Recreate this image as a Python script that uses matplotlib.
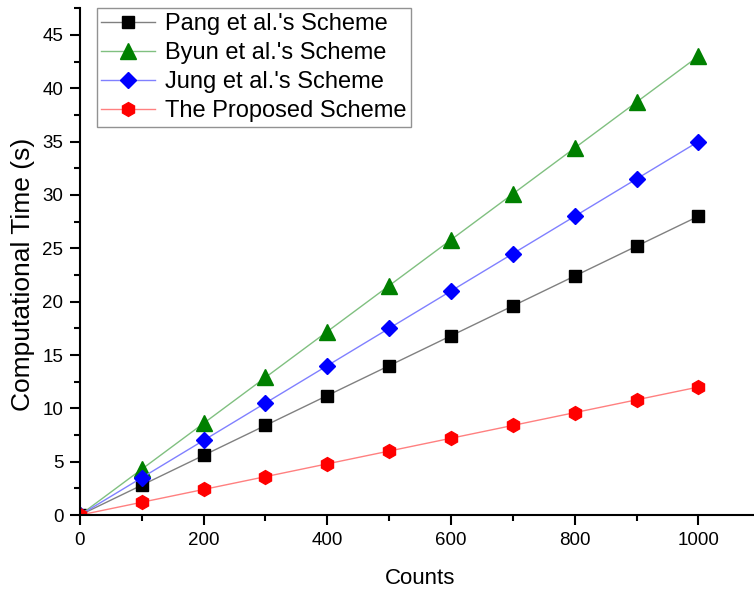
import matplotlib
matplotlib.use("Agg")
import matplotlib.pyplot as plt
from matplotlib.ticker import MultipleLocator

counts = [0, 100, 200, 300, 400, 500, 600, 700, 800, 900, 1000]
pang = [0, 2.8, 5.6, 8.4, 11.2, 14.0, 16.8, 19.6, 22.4, 25.2, 28.0]
byun = [0, 4.3, 8.6, 12.9, 17.2, 21.5, 25.8, 30.1, 34.4, 38.7, 43.0]
jung = [0, 3.5, 7.0, 10.5, 14.0, 17.5, 21.0, 24.5, 28.0, 31.5, 35.0]
proposed = [0, 1.2, 2.4, 3.6, 4.8, 6.0, 7.2, 8.4, 9.6, 10.8, 12.0]

plt.rcParams['font.family'] = ['Liberation Sans', 'DejaVu Sans']

fig = plt.figure(figsize=(7.54, 5.90), dpi=100)
ax = fig.add_axes([0.106, 0.127, 0.894, 0.859])

series = [
    ("Pang et al.'s Scheme", pang, 's', 'black', '#808080', 8),
    ("Byun et al.'s Scheme", byun, '^', '#008000', '#80c080', 11),
    ("Jung et al.'s Scheme", jung, 'D', '#0000ff', '#8080ff', 8),
    ("The Proposed Scheme", proposed, 'h', '#ff0000', '#ff8080', 10),
]
for label, vals, m, mc, lc, ms in series:
    ax.plot(counts, vals, color=lc, linewidth=1.0, marker=m, markersize=ms,
            markerfacecolor=mc, markeredgecolor=mc, label=label)

ax.set_xlim(0, 1090)
ax.set_ylim(0, 47.5)
ax.xaxis.set_major_locator(MultipleLocator(200))
ax.xaxis.set_minor_locator(MultipleLocator(100))
ax.yaxis.set_major_locator(MultipleLocator(5))
ax.yaxis.set_minor_locator(MultipleLocator(2.5))
ax.spines['top'].set_visible(False)
ax.spines['right'].set_visible(False)
for s in ('left', 'bottom'):
    ax.spines[s].set_linewidth(1.5)
ax.tick_params(which='major', direction='out', length=7, width=1.5,
               labelsize=13.5, pad=5)
ax.tick_params(which='minor', direction='out', length=4.5, width=1.5)

ax.set_xlabel('Counts', fontsize=16)
ax.set_ylabel('Computational Time (s)', fontsize=19)
ax.xaxis.set_label_coords(0.504, -0.104)
ax.yaxis.set_label_coords(-0.066, 0.475)

leg = ax.legend(loc='upper left', bbox_to_anchor=(0.025, 1.0), fontsize=17,
                frameon=True, fancybox=False, edgecolor='#777777',
                handlelength=2.25, borderpad=0.2, labelspacing=0.3,
                handletextpad=0.42, borderaxespad=0.0)
leg.get_frame().set_linewidth(1.0)

fig.savefig('out.png', dpi=100)
